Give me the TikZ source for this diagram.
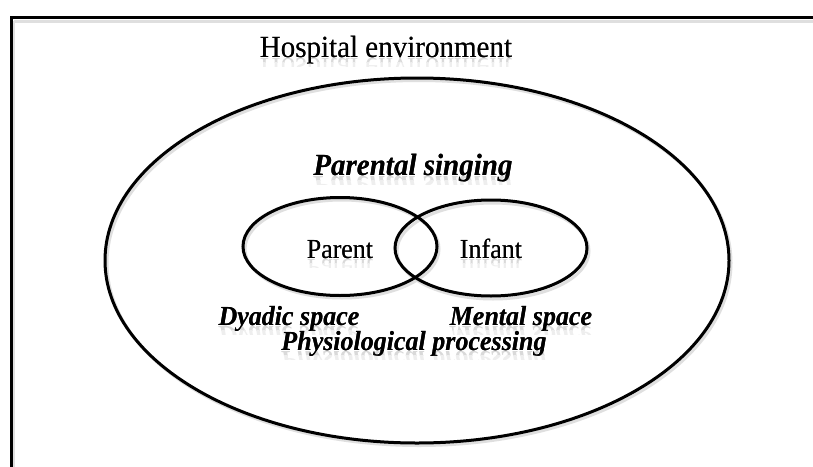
\documentclass[tikz,border=0pt]{standalone}
\usepackage{fontspec}
\setmainfont{Liberation Serif}
\usetikzlibrary{shapes.geometric,calc}
\newcommand{\bigfont}{\fontsize{29}{34}\selectfont}
\newcommand{\midfont}{\fontsize{26}{31}\selectfont}
\newcommand{\refltext}[4]{%
  \node[lbl] (#1) at #2 {#3#4};
  \begin{scope}
    \clip ($(#1.base west)+(-3,1)$) rectangle ($(#1.base east)+(3,5)$);
    \begin{scope}[shift={#2}, yshift=-1pt, yscale=-1, transform shape]
      \node[lbl, text=gray!30] (#1r) at (0,0) {#3#4};
    \end{scope}
  \end{scope}
  \begin{scope}
    \clip ($(#1.base west)+(-3,5)$) rectangle ($(#1.base east)+(3,9)$);
    \begin{scope}[shift={#2}, yshift=-1pt, yscale=-1, transform shape]
      \node[lbl, text=gray!13] (#1rr) at (0,0) {#3#4};
    \end{scope}
  \end{scope}
  \node[lbl] (#1t) at #2 {#3#4};}
\begin{document}
\begin{tikzpicture}[x=1pt,y=-1pt,
  lbl/.style={anchor=base, inner sep=0pt, yscale=1.06},
  oval/.style={draw=black, line width=3pt, ellipse, inner sep=0pt},
  ovalshadow/.style={draw=gray!25, line width=3pt, ellipse, inner sep=0pt}]
\useasboundingbox (0,0) rectangle (813,466);
\fill[white] (0,0) rectangle (813,466);
% frame
\begin{scope}
\clip (0,0) rectangle (813,466);
\draw[gray!25, line width=3pt] (14,21) -- (830,21);
\draw[gray!25, line width=2pt] (14,21) -- (14,480);
\draw[black, line width=3pt] (11,480) -- (11,17) -- (830,17);
\end{scope}
% shadows
\node[ovalshadow, minimum width=624pt, minimum height=365pt] (outerS) at (419,263) {};
\node[ovalshadow, minimum width=194pt, minimum height=98pt] (parentS) at (342,249) {};
\node[ovalshadow, minimum width=192pt, minimum height=96pt] (infantS) at (493,251) {};
% ellipses
\node[oval, minimum width=624pt, minimum height=365pt] (outer) at (417,260.5) {};
\node[oval, minimum width=194pt, minimum height=98pt] (parentE) at (340,246.5) {};
\node[oval, minimum width=192pt, minimum height=96pt] (infantE) at (491,248) {};
% texts
\refltext{hosp}{(386,57)}{\bigfont}{Hospital environment}
\refltext{sing}{(413,175)}{\bigfont\bfseries\itshape}{Parental singing}
\refltext{parent}{(340,258)}{\midfont}{Parent}
\refltext{infant}{(491,258)}{\midfont}{Infant}
\refltext{dyadic}{(289,325)}{\midfont\bfseries\itshape}{Dyadic space}
\refltext{mental}{(521,325)}{\midfont\bfseries\itshape}{Mental space}
\refltext{physio}{(414,350)}{\midfont\bfseries\itshape}{Physiological processing}
\end{tikzpicture}
\end{document}
